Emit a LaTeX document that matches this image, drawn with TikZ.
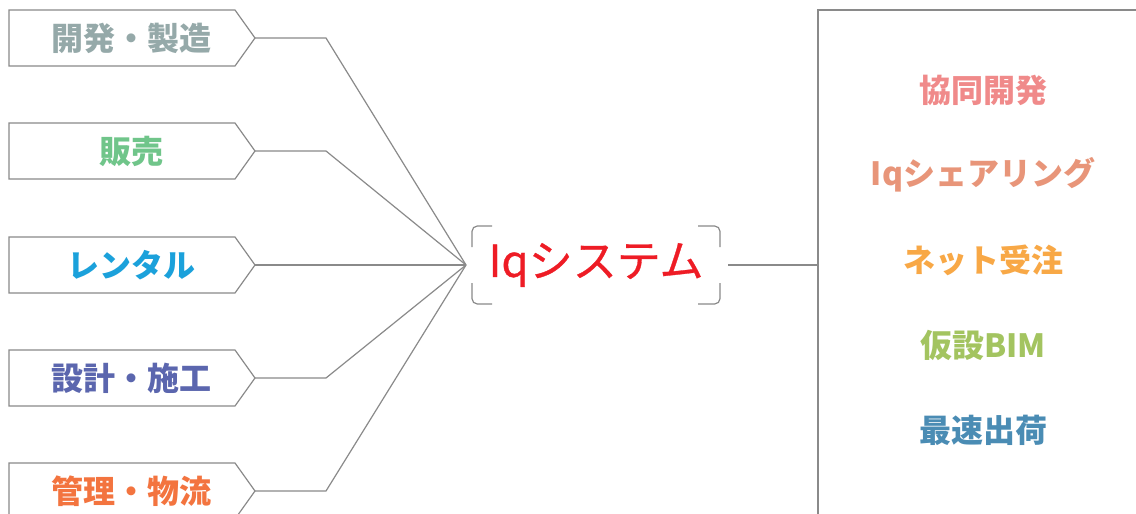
\documentclass[tikz,border=0pt]{standalone}
\usepackage{fontspec}
\newfontfamily\jp{Noto Sans CJK JP}
\newfontfamily\jpm[FakeBold=0.7]{Noto Sans CJK JP}
\definecolor{lnc}{HTML}{8A8A8A}
\definecolor{cA}{HTML}{95A9A9}
\definecolor{cB}{HTML}{70C58A}
\definecolor{cC}{HTML}{1BA1DB}
\definecolor{cD}{HTML}{5B66AE}
\definecolor{cE}{HTML}{F3743F}
\definecolor{cS}{HTML}{EE1C25}
\definecolor{r1}{HTML}{F08A8A}
\definecolor{r2}{HTML}{E89579}
\definecolor{r3}{HTML}{F8A846}
\definecolor{r4}{HTML}{A3C460}
\definecolor{r5}{HTML}{4A8CB4}
\tikzset{
  ln/.style={draw=lnc, line width=0.9pt},
  ltext/.style={font=\jp\bfseries\fontsize{24pt}{27pt}\selectfont, inner sep=0pt},
  rtext/.style={font=\jp\bfseries\fontsize{24pt}{27pt}\selectfont, inner sep=0pt},
  stext/.style={font=\jpm\fontsize{33pt}{36pt}\selectfont, inner sep=0pt, text=cS},
}
\begin{document}
\begin{tikzpicture}[x=0.75pt,y=-0.75pt]
\clip (0,0) rectangle (1136,514);
\fill[white] (0,0) rectangle (1136,514);
% hub
\coordinate (hub) at (466,265);
% left boxes
\foreach \i/\yy/\c/\t in {1/38/cA/開発・製造, 2/151/cB/販売, 3/265/cC/レンタル, 4/378/cD/設計・施工, 5/491/cE/管理・物流}{
  \draw[ln] (9,\yy-28) -- (235,\yy-28) -- (255,\yy) -- (235,\yy+28) -- (9,\yy+28) -- cycle;
  \coordinate (tip\i) at (255,\yy);
  \coordinate (bend\i) at (326,\yy);
  \node[ltext, text=\c] (lt\i) at (131,\yy) {\t};
  \draw[ln] (tip\i) -- (bend\i) -- (hub);
}
% center
\node[stext] (sys) at (596,265) {Iqシステム};
\draw[ln, rounded corners=4pt] (492,226) -- (472,226) -- (472,247);
\draw[ln, rounded corners=4pt] (472,283) -- (472,304) -- (492,304);
\draw[ln, rounded corners=4pt] (698,226) -- (720,226) -- (720,247);
\draw[ln, rounded corners=4pt] (720,283) -- (720,304) -- (698,304);
\coordinate (sysR) at (728,265);
% right panel
\coordinate (pl) at (818,265);
\draw[ln] (818,530) -- (818,10) -- (1150,10);
\draw[ln] (sysR) -- (pl);
\node[rtext, text=r1] (n1) at (983,90) {協同開発};
\node[rtext, text=r2] (n2) at (983,175) {Iqシェアリング};
\node[rtext, text=r3] (n3) at (983,260) {ネット受注};
\node[rtext, text=r4] (n4) at (983,345) {仮設BIM};
\node[rtext, text=r5] (n5) at (983,430) {最速出荷};
\end{tikzpicture}
\end{document}
